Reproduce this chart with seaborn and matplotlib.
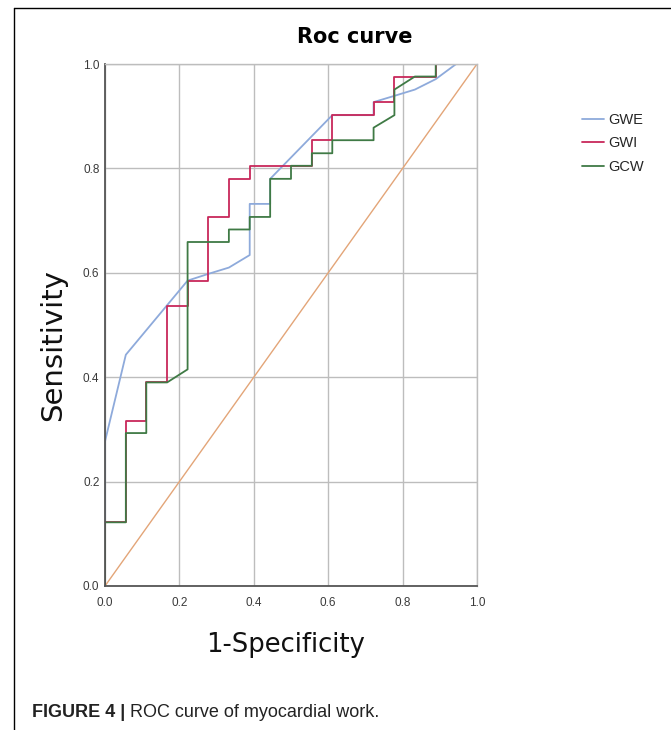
import numpy as np
import pandas as pd
import matplotlib
matplotlib.use("Agg")
import matplotlib.pyplot as plt
import seaborn as sns
from matplotlib.lines import Line2D

# ---------------- data ----------------
curve_names = ["GWE", "GWI", "GCW"]

gwe_fpr = [0.000, 0.000, 0.056, 0.222, 0.278, 0.333, 0.389, 0.389, 0.444, 0.444,
           0.611, 0.722, 0.722, 0.778, 0.833, 0.889, 0.944, 1.000]
gwe_tpr = [0.000, 0.277, 0.443, 0.585, 0.598, 0.610, 0.634, 0.732, 0.732, 0.780,
           0.902, 0.902, 0.927, 0.939, 0.951, 0.971, 1.000, 1.000]

gwi_fpr = [0.000, 0.000, 0.056, 0.056, 0.111, 0.111, 0.167, 0.167, 0.222, 0.222,
           0.278, 0.278, 0.333, 0.333, 0.389, 0.389, 0.556, 0.556, 0.611, 0.611,
           0.722, 0.722, 0.778, 0.778, 0.889, 0.889, 1.000]
gwi_tpr = [0.000, 0.122, 0.122, 0.317, 0.317, 0.390, 0.390, 0.537, 0.537, 0.585,
           0.585, 0.707, 0.707, 0.780, 0.780, 0.805, 0.805, 0.854, 0.854, 0.902,
           0.902, 0.927, 0.927, 0.976, 0.976, 1.000, 1.000]

gcw_fpr = [0.000, 0.000, 0.056, 0.056, 0.111, 0.111, 0.167, 0.222, 0.222, 0.333,
           0.333, 0.389, 0.389, 0.444, 0.444, 0.500, 0.500, 0.556, 0.556, 0.611,
           0.611, 0.722, 0.722, 0.778, 0.778, 0.833, 0.889, 0.889, 1.000]
gcw_tpr = [0.000, 0.122, 0.122, 0.293, 0.293, 0.390, 0.390, 0.415, 0.659, 0.659,
           0.683, 0.683, 0.707, 0.707, 0.780, 0.780, 0.805, 0.805, 0.829, 0.829,
           0.854, 0.854, 0.878, 0.902, 0.951, 0.976, 0.976, 1.000, 1.000]

diag_x = [0.0, 1.0]
diag_y = [0.0, 1.0]

tick_values = [0.0, 0.2, 0.4, 0.6, 0.8, 1.0]
tick_labels = ["0.0", "0.2", "0.4", "0.6", "0.8", "1.0"]

title_text = "Roc curve"
x_label = "1-Specificity"
y_label = "Sensitivity"
caption_bold = "FIGURE 4 |"
caption_rest = " ROC curve of myocardial work."

# ---------------- styling ----------------
curve_colors = ["#8eaadb", "#c8285a", "#3f7a45"]
diag_color = "#e3a578"

sns.set_theme(style="whitegrid")
plt.rcParams["font.family"] = ["Liberation Sans", "DejaVu Sans"]

W, H = 671, 730
fig = plt.figure(figsize=(W / 100, H / 100), dpi=100)
fig.patch.set_facecolor("white")

ax_l, ax_r, ax_t, ax_b = 105, 477, 64, 586
ax = fig.add_axes([ax_l / W, 1 - ax_b / H, (ax_r - ax_l) / W, (ax_b - ax_t) / H])
ax.set_facecolor("white")

frames = []
for name, fx, ty in zip(curve_names, [gwe_fpr, gwi_fpr, gcw_fpr], [gwe_tpr, gwi_tpr, gcw_tpr]):
    frames.append(pd.DataFrame({"fpr": fx, "tpr": ty, "curve": name}))
df = pd.concat(frames, ignore_index=True)

sns.lineplot(x=diag_x, y=diag_y, color=diag_color, lw=1.0, sort=False,
             estimator=None, ax=ax)
sns.lineplot(data=df, x="fpr", y="tpr", hue="curve", hue_order=curve_names,
             palette=curve_colors, sort=False, estimator=None, lw=1.3,
             legend=False, ax=ax)

ax.set_xlim(0, 1)
ax.set_ylim(0, 1)
ax.set_xticks(tick_values)
ax.set_xticklabels(tick_labels)
ax.set_yticks(tick_values)
ax.set_yticklabels(tick_labels)
ax.set_xlabel("")
ax.set_ylabel("")
ax.grid(True, color="#bdbdbd", lw=1.0)
ax.tick_params(axis="both", length=0, labelsize=8.5, labelcolor="#3a3a3a")
ax.tick_params(axis="x", pad=8)
ax.tick_params(axis="y", pad=4)
for s in ["left", "bottom"]:
    ax.spines[s].set_color("#555555")
    ax.spines[s].set_linewidth(1.3)
for s in ["top", "right"]:
    ax.spines[s].set_color("#bdbdbd")
    ax.spines[s].set_linewidth(1.0)

# title and axis labels
fig.text(355 / W, 1 - 37 / H, title_text, fontsize=15, fontweight="bold",
         family=["DejaVu Sans"], ha="center", va="center", color="black")
fig.text(53 / W, 1 - 345 / H, y_label, fontsize=21, rotation=90,
         family=["DejaVu Sans"], ha="center", va="center", color="#111111")
fig.text(286 / W, 1 - 645 / H, x_label, fontsize=18.6,
         family=["DejaVu Sans"], ha="center", va="center", color="#111111")

# legend
handles = [Line2D([], [], color=c, lw=1.3) for c in curve_colors]
fig.legend(handles, curve_names, loc="upper left",
           bbox_to_anchor=(582 / W, 1 - 113 / H), frameon=False,
           handlelength=1.5, handletextpad=0.3, labelspacing=0.65,
           borderpad=0, borderaxespad=0, fontsize=10.5)

# frame lines (left and top)
fig.add_artist(Line2D([14 / W, 14 / W], [0, 1 - 8 / H], transform=fig.transFigure,
                      color="black", lw=1.0))
fig.add_artist(Line2D([14 / W, 1], [1 - 8 / H, 1 - 8 / H], transform=fig.transFigure,
                      color="black", lw=1.0))

# caption
cap_y = 1 - 717 / H
t1 = fig.text(32 / W, cap_y, caption_bold, fontsize=13, fontweight="bold",
              ha="left", va="baseline", color="#222222")
fig.canvas.draw()
bb = t1.get_window_extent(renderer=fig.canvas.get_renderer())
fig.text(bb.x1 / W, cap_y, caption_rest, fontsize=13, ha="left",
         va="baseline", color="#222222")

fig.savefig("out.png", dpi=100)
